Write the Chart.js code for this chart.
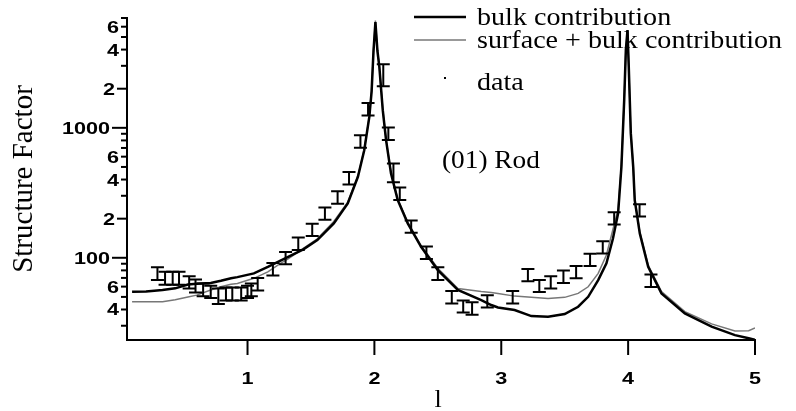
<!DOCTYPE html>
<html>
<head>
<meta charset="utf-8">
<script src="https://cdn.jsdelivr.net/npm/chart.js@4.4.1/dist/chart.umd.min.js"></script>
<style>
  html, body { margin: 0; padding: 0; background: #fff; }
  #wrap { width: 796px; height: 411px; position: relative; }
</style>
</head>
<body>
<div id="wrap"><canvas id="rodChart"></canvas></div>
<script>
// curve grid (l) and the two model curves
const curveL = [0.09, 0.20, 0.33, 0.43, 0.53, 0.60, 0.71, 0.79, 0.87, 0.92, 1.05, 1.16, 1.26, 1.32, 1.44,
  1.55, 1.68, 1.79, 1.87, 1.92, 1.96, 1.978, 1.993, 2.008, 2.024, 2.039, 2.066, 2.092, 2.131, 2.184,
  2.263, 2.368, 2.50, 2.658, 2.842, 2.921, 2.974, 3.105, 3.237, 3.369, 3.50, 3.606, 3.685, 3.764,
  3.829, 3.88, 3.921, 3.947, 3.969, 3.982, 3.995, 4.005, 4.021, 4.04, 4.052, 4.092, 4.158, 4.263,
  4.447, 4.658, 4.842, 4.95, 5.0];
const bulkValues = [54.7, 55, 56.5, 58.2, 62.2, 63, 64, 66.5, 69.5, 71, 75.9, 85, 95, 101.8, 116,
  137, 184, 262, 420, 673, 1214, 1900, 3900, 6500, 3900, 2944, 1368, 804, 446, 278,
  184, 121.6, 80.4, 56.5, 47.3, 43.3, 41.5, 39.6, 35.6, 35.2, 36.9, 42.0, 50.1, 67.3,
  90.5, 140, 220, 501, 1633, 3963, 5650, 2944, 910, 501, 278, 154, 85.3, 53.2,
  37.3, 29.5, 25.4, 24, 23.4];
const surfaceValues = [45.9, 45.9, 45.9, 47.5, 50, 51.6, 56.5, 59.8, 62.5, 63.5, 69.5, 78, 90.6, 98, 118,
  140, 190, 268, 425, 680, 1230, 1950, 3950, 6700, 3950, 2980, 1390, 815, 452, 282,
  187, 124, 83, 58, 55, 54, 53, 50.7, 49.6, 48.7, 49.6, 53.2, 59.8, 75.9,
  105, 165, 235, 516, 1650, 3980, 5650, 2960, 925, 510, 285, 158, 88, 55,
  38.5, 31, 27.3, 27.5, 28.8];

// measured points with error bars
const dataL = [0.29, 0.35, 0.41, 0.46, 0.54, 0.59, 0.65, 0.71, 0.77, 0.83, 0.88, 0.95, 1.00, 1.03, 1.08,
  1.20, 1.30, 1.40, 1.51, 1.61, 1.71, 1.80, 1.89, 1.95, 2.07, 2.11, 2.15, 2.20, 2.29, 2.41,
  2.50, 2.61, 2.70, 2.77, 2.89, 3.09, 3.21, 3.30, 3.39, 3.49, 3.59, 3.70, 3.80, 3.89, 4.09, 4.18];
const dataValues = [76, 70, 70, 70, 65, 61, 57, 55, 51, 53, 53, 53, 55, 57, 63,
  82, 100, 129, 165, 220, 293, 412, 790, 1400, 2590, 905, 456, 313, 175, 110,
  76, 50, 42.5, 41, 46.4, 50, 74, 61, 65, 72, 78, 97, 121, 202, 233, 67];
const dataErr = [8.5, 8, 8, 8, 7, 7, 6.5, 6, 7, 6, 6, 6, 6, 6.5, 7,
  9, 11, 14, 18, 24, 32, 45, 87, 155, 500, 100, 75, 35, 19, 12,
  8.5, 5.5, 4.5, 4.5, 5, 5.5, 8, 6.5, 7, 8, 8.5, 10.5, 13, 22, 25, 7.5];

// axis ticks
const xTickValues = [1, 2, 3, 4, 5];
const xTickLabels = ['1', '2', '3', '4', '5'];
const yTickValues = [30, 40, 50, 60, 70, 80, 90, 100, 200, 300, 400, 500, 600, 700, 800, 900,
  1000, 2000, 3000, 4000, 5000, 6000, 7000];
const yLabeledTicks = [40, 60, 100, 200, 400, 600, 1000, 2000, 4000, 6000];
const yTickLabels = ['4', '6', '100', '2', '4', '6', '1000', '2', '4', '6'];

const legendLabels = ['bulk contribution', 'surface + bulk contribution', 'data'];
const SERIF = '"Liberation Serif", "Times New Roman", serif';
const SANS = '"Liberation Sans", Arial, sans-serif';

function toPoints(xs, ys) {
  return xs.map(function (v, i) { return { x: v, y: ys[i] }; });
}

function drawText(ctx, text, x, y, font, align, sx, rot) {
  ctx.save();
  ctx.translate(x, y);
  if (rot) ctx.rotate(rot);
  ctx.scale(sx, 1);
  ctx.font = font;
  ctx.fillStyle = '#000';
  ctx.textAlign = align;
  ctx.textBaseline = 'alphabetic';
  ctx.fillText(text, 0, 0);
  ctx.restore();
}

const decorations = {
  id: 'decorations',
  afterDatasetsDraw(chart) {
    const ctx = chart.ctx;
    const xs = chart.scales.x, ys = chart.scales.y;
    ctx.save();
    ctx.strokeStyle = '#000';
    ctx.lineWidth = 2;
    dataL.forEach(function (l, i) {
      const px = xs.getPixelForValue(l);
      const top = ys.getPixelForValue(dataValues[i] + dataErr[i]);
      const bot = ys.getPixelForValue(dataValues[i] - dataErr[i]);
      ctx.beginPath();
      ctx.moveTo(px, top); ctx.lineTo(px, bot);
      ctx.moveTo(px - 6.5, top); ctx.lineTo(px + 6.5, top);
      ctx.moveTo(px - 6.5, bot); ctx.lineTo(px + 6.5, bot);
      ctx.stroke();
    });
    ctx.restore();
  },
  afterDraw(chart) {
    const ctx = chart.ctx;
    const xs = chart.scales.x, ys = chart.scales.y;
    const area = chart.chartArea;
    ctx.save();
    ctx.strokeStyle = '#000';
    ctx.lineWidth = 2;

    // y ticks
    yTickValues.forEach(function (v) {
      const py = ys.getPixelForValue(v);
      const lead = v / Math.pow(10, Math.floor(Math.log10(v) + 1e-9));
      let len = 6;
      if (Math.abs(lead - 1) < 1e-6) len = 15;
      else if (Math.abs(lead - 2) < 1e-6) len = 10;
      ctx.beginPath();
      ctx.moveTo(area.left - len, py); ctx.lineTo(area.left, py);
      ctx.stroke();
      const k = yLabeledTicks.indexOf(v);
      if (k >= 0) {
        drawText(ctx, yTickLabels[k], area.left - len - 2, py + 6, 'bold 16px ' + SANS, 'right', 1.35);
      }
    });

    // x ticks
    xTickValues.forEach(function (v, i) {
      const px = xs.getPixelForValue(v);
      ctx.beginPath();
      ctx.moveTo(px, area.bottom); ctx.lineTo(px, area.bottom + 15);
      ctx.stroke();
      drawText(ctx, xTickLabels[i], px, area.bottom + 44, 'bold 16px ' + SANS, 'center', 1.35);
    });

    // axis titles
    drawText(ctx, 'l', 438, 407, '26px ' + SERIF, 'center', 1.0);
    drawText(ctx, 'Structure Factor', 32, 179, '29px ' + SERIF, 'center', 1.0, -Math.PI / 2);

    // legend
    const ds = chart.data.datasets;
    [0, 1].forEach(function (d, i) {
      const ly = 17 + i * 23;
      ctx.beginPath();
      ctx.strokeStyle = ds[d].borderColor;
      ctx.lineWidth = ds[d].borderWidth;
      ctx.moveTo(414, ly); ctx.lineTo(466, ly);
      ctx.stroke();
      drawText(ctx, legendLabels[i], 477, ly + 8, '26px ' + SERIF, 'left', 1.08);
    });
    ctx.fillStyle = '#000';
    ctx.fillRect(444, 77, 2, 2);
    drawText(ctx, legendLabels[2], 477, 90, '26px ' + SERIF, 'left', 1.08);

    // annotation
    drawText(ctx, '(01) Rod', 442, 168, '26px ' + SERIF, 'left', 1.05);
    ctx.restore();
  }
};

new Chart(document.getElementById('rodChart'), {
  type: 'scatter',
  data: {
    datasets: [
      {
        label: legendLabels[0],
        data: toPoints(curveL, bulkValues),
        showLine: true,
        borderColor: '#000',
        borderWidth: 2.5,
        pointRadius: 0,
        tension: 0
      },
      {
        label: legendLabels[1],
        data: toPoints(curveL, surfaceValues),
        showLine: true,
        borderColor: '#777',
        borderWidth: 1.5,
        pointRadius: 0,
        tension: 0
      },
      {
        label: legendLabels[2],
        data: toPoints(dataL, dataValues),
        showLine: false,
        pointRadius: 0,
        borderColor: '#000',
        backgroundColor: '#000'
      }
    ]
  },
  options: {
    responsive: true,
    maintainAspectRatio: false,
    animation: false,
    layout: { padding: { left: 127, right: 41, top: 18, bottom: 71 } },
    plugins: { legend: { display: false }, tooltip: { enabled: false } },
    scales: {
      x: {
        type: 'linear',
        min: 0.05,
        max: 5,
        ticks: { display: false },
        grid: { display: false, drawTicks: false },
        border: { display: true, color: '#000', width: 2 }
      },
      y: {
        type: 'logarithmic',
        min: 23.3,
        max: 7000,
        ticks: { display: false },
        grid: { display: false, drawTicks: false },
        border: { display: true, color: '#000', width: 2 }
      }
    }
  },
  plugins: [decorations]
});
</script>
</body>
</html>
